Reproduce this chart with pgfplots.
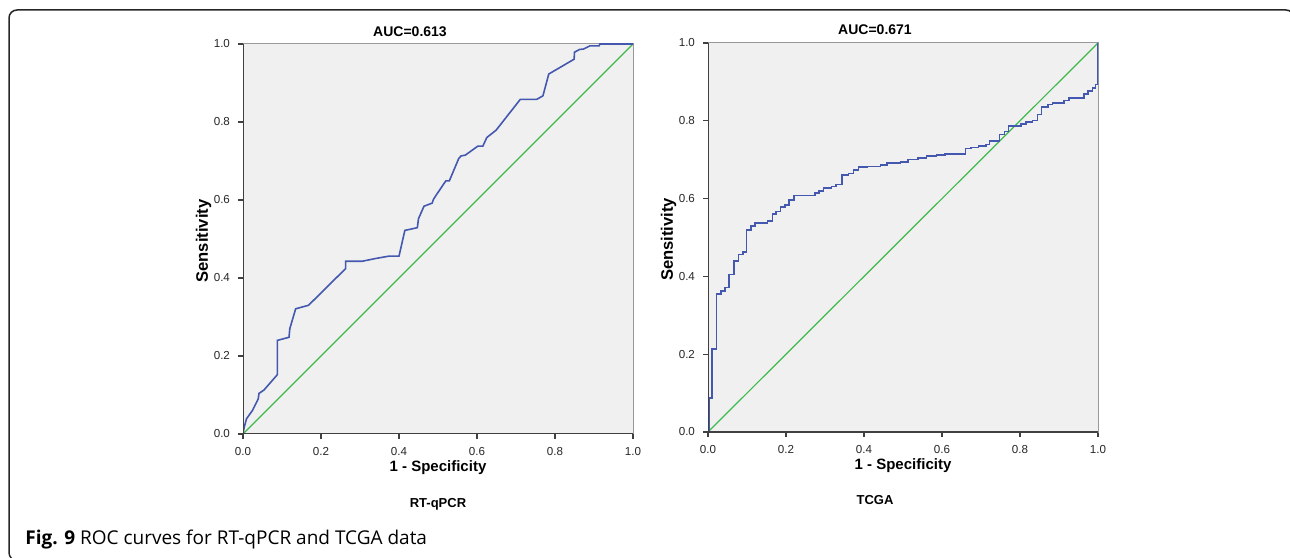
\documentclass[border=0pt]{standalone}
\usepackage{pgfplots}
\pgfplotsset{compat=1.18}
\usepackage{fontspec}
\setmainfont{Liberation Sans}
\newfontfamily\capfont{Open Sans}

\definecolor{rocblue}{RGB}{68,88,176}
\definecolor{refgreen}{RGB}{62,186,76}
\definecolor{panelbg}{RGB}{240,240,240}
\definecolor{axisdark}{RGB}{64,64,64}

% 1 px of the reference = 0.5pt
\pgfplotsset{
  rocaxis/.style={
    scale only axis,
    width=195pt, height=195pt,
    xmin=0, xmax=1, ymin=0, ymax=1,
    xtick={0,0.2,0.4,0.6,0.8,1.0},
    ytick={0,0.2,0.4,0.6,0.8,1.0},
    tick align=outside,
    xtick pos=bottom, ytick pos=left,
    major tick length=2.5pt,
    tick style={axisdark, line width=0.6pt},
    axis background/.style={fill=panelbg},
    axis line style={draw=gray!80, line width=0.5pt},
    tick label style={font=\fontsize{5.8}{6}\selectfont, text=black!85},
    /pgf/number format/.cd, fixed, fixed zerofill, precision=1, assume math mode=true,
    /pgfplots/.cd,
    xticklabel style={yshift=-0.5pt},
    yticklabel style={xshift=-0.5pt},
    xlabel style={font=\bfseries\fontsize{7.5}{8}\selectfont,
      at={(axis description cs:0.5,-0.0974)}, anchor=base},
    ylabel style={font=\bfseries\fontsize{8.3}{9}\selectfont,
      at={(axis description cs:-0.09,0.495)}, anchor=base},
    xlabel={1 - Specificity},
    ylabel={Sensitivity},
  },
}

\begin{document}
\begin{tikzpicture}
\useasboundingbox (0,0) rectangle (645pt,278.5pt);

% figure frame (right and bottom edges run off the page)
\draw[line width=0.75pt, black!85, rounded corners=4pt] (4.5pt,273.5pt) rectangle (647pt,-1.8pt);

% ---- RT-qPCR ----
\begin{axis}[rocaxis, at={(121.5pt,61.5pt)}, anchor=south west]
\addplot[refgreen, line width=0.6pt] coordinates {(0,0) (1,1)};
\addplot[rocblue, line width=0.8pt] coordinates {
(0,0) (0.003,0.017) (0.009,0.039) (0.024,0.06) (0.039,0.09) (0.041,0.104)
(0.054,0.113) (0.088,0.152) (0.088,0.24) (0.118,0.248) (0.12,0.27)
(0.135,0.321) (0.168,0.33) (0.263,0.424) (0.263,0.443) (0.306,0.443)
(0.34,0.45) (0.374,0.456) (0.4,0.456) (0.415,0.522) (0.447,0.529)
(0.45,0.552) (0.464,0.584) (0.485,0.592) (0.488,0.601) (0.495,0.612)
(0.520,0.649) (0.529,0.649) (0.553,0.706) (0.559,0.713) (0.570,0.715)
(0.602,0.738) (0.615,0.738) (0.625,0.760) (0.649,0.779) (0.711,0.858)
(0.753,0.858) (0.769,0.867) (0.784,0.923) (0.849,0.961) (0.850,0.979)
(0.863,0.986) (0.873,0.987) (0.889,0.995) (0.913,0.995) (0.915,1.0) (1,1)};
\draw[axisdark, line width=1pt] (rel axis cs:0,1) -- (rel axis cs:0,0) -- (rel axis cs:1,0);
\end{axis}

% ---- TCGA ----
\begin{axis}[rocaxis, height=194.5pt, at={(354pt,62.5pt)}, anchor=south west]
\addplot[refgreen, line width=0.6pt] coordinates {(0,0) (1,1)};
\addplot[rocblue, line width=0.8pt, const plot mark left] coordinates {
(0,0) (0.004,0.087) (0.011,0.213) (0.022,0.354) (0.033,0.363) (0.044,0.371)
(0.054,0.405) (0.066,0.439) (0.078,0.456) (0.089,0.463) (0.099,0.520)
(0.110,0.529) (0.121,0.538) (0.153,0.543) (0.165,0.561) (0.175,0.567)
(0.186,0.578) (0.197,0.584) (0.208,0.597) (0.221,0.608) (0.274,0.614)
(0.285,0.620) (0.296,0.627) (0.317,0.631) (0.328,0.636) (0.343,0.661)
(0.360,0.665) (0.373,0.674) (0.386,0.681) (0.408,0.683) (0.442,0.687)
(0.459,0.691) (0.494,0.694) (0.513,0.701) (0.539,0.705) (0.560,0.709)
(0.586,0.712) (0.607,0.715) (0.660,0.729) (0.675,0.731) (0.694,0.735)
(0.713,0.739) (0.722,0.748) (0.747,0.765) (0.760,0.772) (0.770,0.786)
(0.803,0.792) (0.815,0.797) (0.832,0.801) (0.845,0.816) (0.855,0.835)
(0.871,0.842) (0.883,0.846) (0.913,0.852) (0.926,0.859) (0.964,0.869)
(0.975,0.876) (0.986,0.885) (0.994,0.893) (1.0,1.0)};
\draw[axisdark, line width=1pt] (rel axis cs:0,1) -- (rel axis cs:0,0) -- (rel axis cs:1,0);
\end{axis}

% titles and panel names
\node[font=\bfseries\fontsize{7}{8}\selectfont] at (205pt,262.5pt) {AUC=0.613};
\node[font=\bfseries\fontsize{7}{8}\selectfont] at (437.5pt,263.5pt) {AUC=0.671};
\node[font=\bfseries\fontsize{6.5}{7}\selectfont, anchor=base] at (219pt,25pt) {RT-qPCR};
\node[font=\bfseries\fontsize{6.5}{7}\selectfont, anchor=base] at (437.5pt,26.5pt) {TCGA};

% caption
\node[font=\capfont\fontsize{9.5}{11}\selectfont, anchor=base west, inner sep=0pt] at (12.5pt,6.5pt)
  {\textbf{Fig. 9} ROC curves for RT-qPCR and TCGA data};
\end{tikzpicture}
\end{document}
